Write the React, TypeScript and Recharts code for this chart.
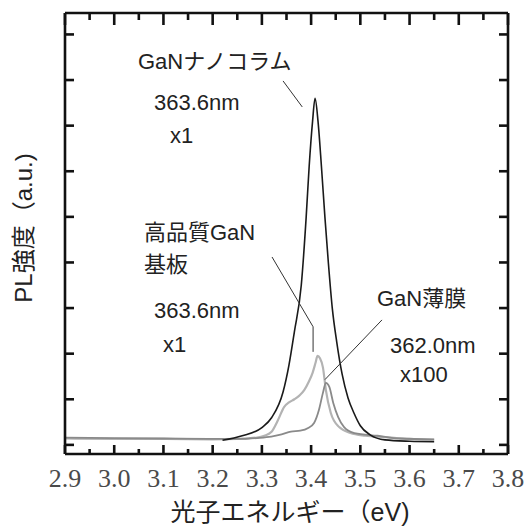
import React from "react";
import {
  LineChart,
  Line,
  XAxis,
  YAxis,
  ReferenceLine,
} from "recharts";

// photon energy (eV) / PL intensity (a.u.)
const nanoEnergy = [3.22, 3.26, 3.3, 3.32, 3.343, 3.355, 3.366, 3.38, 3.39, 3.396, 3.403, 3.408, 3.414, 3.421, 3.428, 3.435, 3.443, 3.452, 3.463, 3.475, 3.487, 3.5, 3.52, 3.55, 3.6, 3.65];
const nanoIntensity = [0.1, 0.2, 0.38, 0.6, 1.16, 1.75, 2.48, 3.5, 5.0, 6.1, 7.1, 7.6, 7.1, 6.1, 5.0, 4.0, 3.0, 2.26, 1.55, 1.03, 0.7, 0.42, 0.22, 0.11, 0.08, 0.07];

const substrateEnergy = [2.9, 3.0, 3.1, 3.2, 3.25, 3.29, 3.305, 3.319, 3.333, 3.345, 3.355, 3.366, 3.376, 3.386, 3.395, 3.403, 3.409, 3.413, 3.418, 3.424, 3.43, 3.44, 3.457, 3.48, 3.51, 3.55, 3.6, 3.65];
const substrateIntensity = [0.14, 0.13, 0.13, 0.12, 0.13, 0.16, 0.2, 0.28, 0.55, 0.83, 0.93, 1.0, 1.08, 1.2, 1.38, 1.58, 1.8, 1.95, 1.9, 1.7, 1.2, 0.7, 0.39, 0.26, 0.2, 0.17, 0.13, 0.11];

const filmEnergy = [2.9, 3.0, 3.1, 3.2, 3.25, 3.29, 3.319, 3.34, 3.359, 3.378, 3.394, 3.406, 3.416, 3.424, 3.43, 3.437, 3.445, 3.455, 3.467, 3.488, 3.535, 3.58, 3.65];
const filmIntensity = [0.16, 0.15, 0.14, 0.13, 0.13, 0.15, 0.18, 0.23, 0.29, 0.31, 0.37, 0.48, 0.77, 1.14, 1.36, 1.27, 0.92, 0.61, 0.39, 0.26, 0.2, 0.14, 0.12];

const xTicks = [2.9, 2.95, 3.0, 3.05, 3.1, 3.15, 3.2, 3.25, 3.3, 3.35, 3.4, 3.45, 3.5, 3.55, 3.6, 3.65, 3.7, 3.75, 3.8];
const xLabels = ["2.9", "3.0", "3.1", "3.2", "3.3", "3.4", "3.5", "3.6", "3.7", "3.8"];
const yTicks = [0, 1, 2, 3, 4, 5, 6, 7, 8, 9];

const X_MIN = 2.9;
const X_MAX = 3.8;
const Y_MIN = -0.2;
const Y_MAX = 9.47;

// leader lines from the labels to the peaks, in data units
const nanoLeader = [
  { x: 3.343, y: 7.98 },
  { x: 3.382, y: 7.41 },
];
const substrateLeader = [
  { x: 3.3206, y: 4.12 },
  { x: 3.404, y: 2.59 },
  { x: 3.404, y: 2.04 },
];
const filmLeader = [
  { x: 3.544, y: 2.74 },
  { x: 3.428, y: 1.43 },
];

const toRows = (es, vs) => es.map((e, i) => ({ e, i: vs[i] }));
const nanoData = toRows(nanoEnergy, nanoIntensity);
const substrateData = toRows(substrateEnergy, substrateIntensity);
const filmData = toRows(filmEnergy, filmIntensity);

const label = (v) => {
  const s = v.toFixed(2);
  return s.endsWith("0") ? v.toFixed(1) : null;
};

// plot is 443 x 441 px; tick lengths in px -> data units
const pxX = 443 / (X_MAX - X_MIN);
const pxY = 441 / (Y_MAX - Y_MIN);

const BottomLabel = ({ x, y, payload }) => {
  const txt = label(payload.value);
  if (!txt || !xLabels.includes(txt)) return <g />;
  return (
    <text
      x={x}
      y={y + 33}
      textAnchor="middle"
      fontFamily="'Liberation Serif', 'Times New Roman', serif"
      fontSize={26}
      fill="#4a4a4a">
      {txt}
    </text>
  );
};

const LeftTick = ({ x, y }) => (
  <line x1={x} x2={x + 9} y1={y} y2={y} stroke="#111" strokeWidth={2.6} />
);

const sans = "'Liberation Sans', 'Noto Sans CJK JP', sans-serif";

const notes = [
  { t: "GaNナノコラム", x: 138, y: 69 },
  { t: "363.6nm", x: 154, y: 110 },
  { t: "x1", x: 170, y: 143 },
  { t: "高品質GaN", x: 144, y: 240 },
  { t: "基板", x: 144, y: 272 },
  { t: "363.6nm", x: 154, y: 318 },
  { t: "x1", x: 163, y: 352 },
  { t: "GaN薄膜", x: 377, y: 306 },
  { t: "362.0nm", x: 390, y: 353 },
  { t: "x100", x: 400, y: 382 },
];

const frame = { stroke: "#111", strokeWidth: 2.6 };

export default function App() {
  const marks = [];
  xTicks.forEach((t) => {
    const major = label(t) != null;
    marks.push(
      <ReferenceLine
        key={"b" + t}
        xAxisId="b"
        yAxisId="l"
        segment={[
          { x: t, y: Y_MIN },
          { x: t, y: Y_MIN + (major ? 9 : 5) / pxY },
        ]}
        ifOverflow="visible"
        {...frame}
      />,
      <ReferenceLine
        key={"t" + t}
        xAxisId="b"
        yAxisId="l"
        segment={[
          { x: t, y: Y_MAX },
          { x: t, y: Y_MAX - (major ? 12 : 7) / pxY },
        ]}
        ifOverflow="visible"
        {...frame}
      />
    );
  });
  yTicks.forEach((v) => {
    marks.push(
      <ReferenceLine
        key={"r" + v}
        xAxisId="b"
        yAxisId="l"
        segment={[
          { x: X_MAX, y: v },
          { x: X_MAX - 9 / pxX, y: v },
        ]}
        ifOverflow="visible"
        {...frame}
      />
    );
  });

  return (
    <div style={{ position: "absolute", left: 0, top: 0, width: 525, height: 530, background: "#fff" }}>
      <LineChart
        width={525}
        height={530}
        margin={{ top: 13, right: 17, bottom: 75, left: 64 }}>
        <XAxis
          xAxisId="b"
          dataKey="e"
          type="number"
          domain={[X_MIN, X_MAX]}
          ticks={xTicks}
          interval={0}
          height={1}
          tickSize={0}
          tickMargin={0}
          tickLine={false}
          axisLine={frame}
          tick={BottomLabel}
          allowDataOverflow
        />
        <YAxis
          yAxisId="l"
          type="number"
          domain={[Y_MIN, Y_MAX]}
          ticks={yTicks}
          interval={0}
          width={1}
          tickSize={0}
          tickMargin={0}
          tickLine={false}
          axisLine={frame}
          tick={LeftTick}
          allowDataOverflow
        />
        {/* top and right edges of the box */}
        <ReferenceLine
          xAxisId="b"
          yAxisId="l"
          segment={[
            { x: X_MIN, y: Y_MAX },
            { x: X_MAX, y: Y_MAX },
          ]}
          ifOverflow="visible"
          {...frame}
        />
        <ReferenceLine
          xAxisId="b"
          yAxisId="l"
          segment={[
            { x: X_MAX, y: Y_MIN },
            { x: X_MAX, y: Y_MAX },
          ]}
          ifOverflow="visible"
          {...frame}
        />
        {marks}
        <Line
          xAxisId="b"
          yAxisId="l"
          data={substrateData}
          dataKey="i"
          type="monotone"
          stroke="#b3b3b3"
          strokeWidth={2.2}
          dot={false}
          isAnimationActive={false}
        />
        <Line
          xAxisId="b"
          yAxisId="l"
          data={filmData}
          dataKey="i"
          type="monotone"
          stroke="#8a8a8a"
          strokeWidth={1.8}
          dot={false}
          isAnimationActive={false}
        />
        <Line
          xAxisId="b"
          yAxisId="l"
          data={nanoData}
          dataKey="i"
          type="monotone"
          stroke="#1a1a1a"
          strokeWidth={1.6}
          dot={false}
          isAnimationActive={false}
        />
        <ReferenceLine xAxisId="b" yAxisId="l" segment={nanoLeader} stroke="#333" strokeWidth={1} />
        <ReferenceLine xAxisId="b" yAxisId="l" segment={substrateLeader.slice(0, 2)} stroke="#333" strokeWidth={1} />
        <ReferenceLine xAxisId="b" yAxisId="l" segment={substrateLeader.slice(1)} stroke="#333" strokeWidth={1} />
        <ReferenceLine xAxisId="b" yAxisId="l" segment={filmLeader} stroke="#333" strokeWidth={1} />
      </LineChart>
      <svg
        width={525}
        height={530}
        style={{ position: "absolute", left: 0, top: 0, pointerEvents: "none" }}>
        {notes.map((n, k) => (
          <text key={k} x={n.x} y={n.y} fontFamily={sans} fontSize={22} fill="#222">
            {n.t}
          </text>
        ))}
        <text
          transform="translate(32,228) rotate(-90)"
          textAnchor="middle"
          fontFamily={sans}
          fontSize={24}
          fill="#222">
          PL強度（a.u.)
        </text>
        <text x={290} y={521} textAnchor="middle" fontFamily={sans} fontSize={25} fill="#222">
          光子エネルギー（eV)
        </text>
      </svg>
    </div>
  );
}
